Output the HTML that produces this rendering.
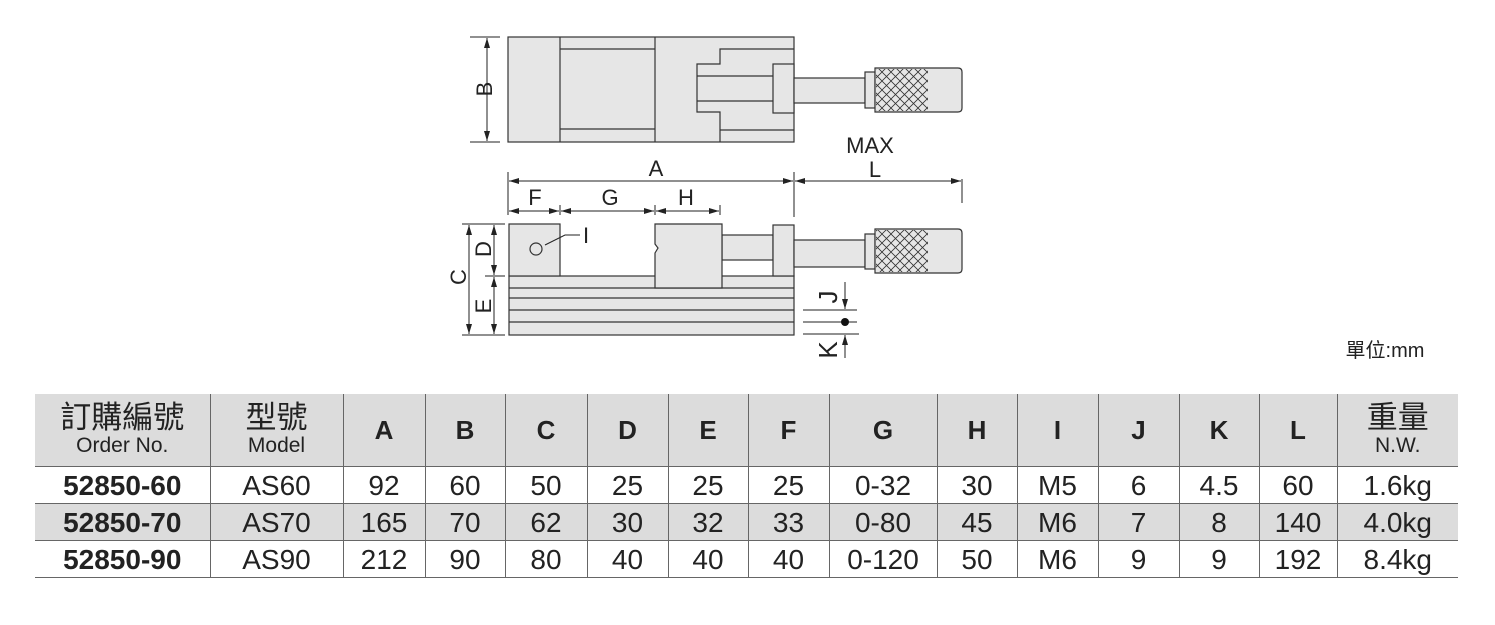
<!DOCTYPE html>
<html><head><meta charset="utf-8"><style>
body{margin:0;background:#fff;width:1495px;height:625px;overflow:hidden;position:relative;font-family:"Liberation Sans","Noto Sans CJK TC",sans-serif}
svg{position:absolute;left:0;top:0}
table{position:absolute;left:35px;top:394px;border-collapse:collapse;color:#222}
td{border-left:1px solid #666;text-align:center;padding:0;font-size:28px;line-height:1;white-space:nowrap}
td:first-child{border-left:none}
tr.h td{height:72px;background:#dcdcdc;font-weight:bold;font-size:26px}
tr.h td.c{font-weight:normal;font-size:31px;line-height:32px}
tr.h td.c span{font-size:21px;line-height:24px;display:block}
tr.r td{height:34px;border-top:1px solid #666;padding-top:2px;line-height:28px}
tr.g td{background:#dcdcdc}
tr.r td:first-child{font-weight:bold}
tr.l td{border-bottom:1px solid #666}
</style></head><body>
<svg width="1495" height="625" viewBox="0 0 1495 625">
<defs>
<marker id="ar" viewBox="0 0 10 6" refX="10" refY="3" markerWidth="10" markerHeight="6" orient="auto-start-reverse" markerUnits="userSpaceOnUse"><path d="M0,0L10,3L0,6z" fill="#222"/></marker>
<pattern id="x" width="9" height="9" patternUnits="userSpaceOnUse"><path d="M0,0L9,9M9,0L0,9" stroke="#333" stroke-width="0.8"/></pattern>
</defs>
<g fill="#e6e6e6" stroke="#333" stroke-width="1.2">
<rect x="508" y="37" width="286" height="105"/>
<line x1="560" y1="37" x2="560" y2="142"/><line x1="655" y1="37" x2="655" y2="142"/>
<line x1="560" y1="49" x2="655" y2="49"/><line x1="560" y1="129" x2="655" y2="129"/>
<polyline fill="none" points="794,49 720,49 720,64 697,64 697,112 720,112 720,142"/>
<line x1="720" y1="130" x2="794" y2="130"/>
<line x1="697" y1="76" x2="773" y2="76"/><line x1="697" y1="101" x2="773" y2="101"/>
<rect x="773" y="64" width="21" height="49"/>
<rect x="794" y="78" width="71" height="25"/>
<rect x="865" y="72" width="10" height="36"/>
<path d="M875,68H958Q962,68 962,72V108Q962,112 958,112H875Z"/>
<rect x="876" y="69" width="52" height="42" fill="url(#x)" stroke="none"/>
<rect x="509" y="276" width="285" height="59"/>
<line x1="509" y1="288" x2="794" y2="288"/><line x1="509" y1="298" x2="794" y2="298"/>
<line x1="509" y1="310" x2="794" y2="310"/><line x1="509" y1="322" x2="794" y2="322"/>
<rect x="509" y="224" width="51" height="52"/>
<circle cx="536" cy="249" r="6"/>
<rect x="722" y="235" width="51" height="25"/>
<path d="M655,224H722V288H655V253L658,248L655,244Z"/>
<rect x="773" y="225" width="21" height="51"/>
<rect x="794" y="240" width="71" height="27"/>
<rect x="865" y="234" width="10" height="35"/>
<path d="M875,229H958Q962,229 962,233V269Q962,273 958,273H875Z"/>
<rect x="876" y="230" width="52" height="42" fill="url(#x)" stroke="none"/>
</g>
<g stroke="#222" stroke-width="1" fill="none">
<line x1="470" y1="37" x2="500" y2="37"/><line x1="470" y1="142" x2="500" y2="142"/>
<line x1="487" y1="38" x2="487" y2="141" marker-start="url(#ar)" marker-end="url(#ar)"/>
<line x1="508" y1="172" x2="508" y2="215"/><line x1="794" y1="172" x2="794" y2="217"/><line x1="962" y1="179" x2="962" y2="203"/>
<line x1="509" y1="181" x2="793" y2="181" marker-start="url(#ar)" marker-end="url(#ar)"/>
<line x1="795" y1="181" x2="961" y2="181" marker-start="url(#ar)" marker-end="url(#ar)"/>
<line x1="560" y1="205" x2="560" y2="215"/><line x1="655" y1="205" x2="655" y2="215"/><line x1="720" y1="205" x2="720" y2="215"/>
<line x1="509" y1="211" x2="559" y2="211" marker-start="url(#ar)" marker-end="url(#ar)"/>
<line x1="561" y1="211" x2="654" y2="211" marker-start="url(#ar)" marker-end="url(#ar)"/>
<line x1="656" y1="211" x2="719" y2="211" marker-start="url(#ar)" marker-end="url(#ar)"/>
<line x1="462" y1="224" x2="505" y2="224"/><line x1="462" y1="335" x2="505" y2="335"/><line x1="485" y1="276" x2="505" y2="276"/>
<line x1="469" y1="225" x2="469" y2="334" marker-start="url(#ar)" marker-end="url(#ar)"/>
<line x1="494" y1="225" x2="494" y2="275" marker-start="url(#ar)" marker-end="url(#ar)"/>
<line x1="494" y1="277" x2="494" y2="334" marker-start="url(#ar)" marker-end="url(#ar)"/>
<polyline points="580,235 565,235 545,245"/>
<line x1="803" y1="310" x2="857" y2="310"/><line x1="803" y1="322" x2="857" y2="322"/><line x1="803" y1="334" x2="859" y2="334"/>
<line x1="845" y1="282" x2="845" y2="309" marker-end="url(#ar)"/>
<line x1="845" y1="358" x2="845" y2="335" marker-end="url(#ar)"/>
</g>
<circle cx="845" cy="322" r="4" fill="#111"/>
<g font-family="Liberation Sans,sans-serif" font-size="22" fill="#222" text-anchor="middle">
<text x="870" y="153">MAX</text><text x="875" y="177">L</text>
<text x="656" y="176">A</text>
<text x="535" y="205">F</text><text x="610" y="205">G</text><text x="686" y="205">H</text>
<text x="586" y="243">I</text>
<text transform="translate(484,89) rotate(-90)" y="8">B</text>
<text transform="translate(458,277) rotate(-90)" y="8">C</text>
<text transform="translate(483,249) rotate(-90)" y="8">D</text>
<text transform="translate(483,306) rotate(-90)" y="8">E</text>
<text transform="translate(828,297) rotate(-90)" y="9" font-size="26">J</text>
<text transform="translate(828,350) rotate(-90)" y="9" font-size="26">K</text>
<text x="1385" y="357" font-size="20" font-family="Liberation Sans,Noto Sans CJK TC,sans-serif">單位:mm</text>
</g>
</svg>
<table>
<colgroup><col style="width:175px"><col style="width:133px"><col style="width:82px"><col style="width:80px"><col style="width:82px"><col style="width:81px"><col style="width:80px"><col style="width:81px"><col style="width:108px"><col style="width:80px"><col style="width:81px"><col style="width:81px"><col style="width:80px"><col style="width:78px"><col style="width:121px"></colgroup>
<tr class="h"><td class="c">訂購編號<span>Order No.</span></td><td class="c">型號<span>Model</span></td><td>A</td><td>B</td><td>C</td><td>D</td><td>E</td><td>F</td><td>G</td><td>H</td><td>I</td><td>J</td><td>K</td><td>L</td><td class="c">重量<span>N.W.</span></td></tr>
<tr class="r"><td>52850-60</td><td>AS60</td><td>92</td><td>60</td><td>50</td><td>25</td><td>25</td><td>25</td><td>0-32</td><td>30</td><td>M5</td><td>6</td><td>4.5</td><td>60</td><td>1.6kg</td></tr>
<tr class="r g"><td>52850-70</td><td>AS70</td><td>165</td><td>70</td><td>62</td><td>30</td><td>32</td><td>33</td><td>0-80</td><td>45</td><td>M6</td><td>7</td><td>8</td><td>140</td><td>4.0kg</td></tr>
<tr class="r l"><td>52850-90</td><td>AS90</td><td>212</td><td>90</td><td>80</td><td>40</td><td>40</td><td>40</td><td>0-120</td><td>50</td><td>M6</td><td>9</td><td>9</td><td>192</td><td>8.4kg</td></tr>
</table>
</body></html>
